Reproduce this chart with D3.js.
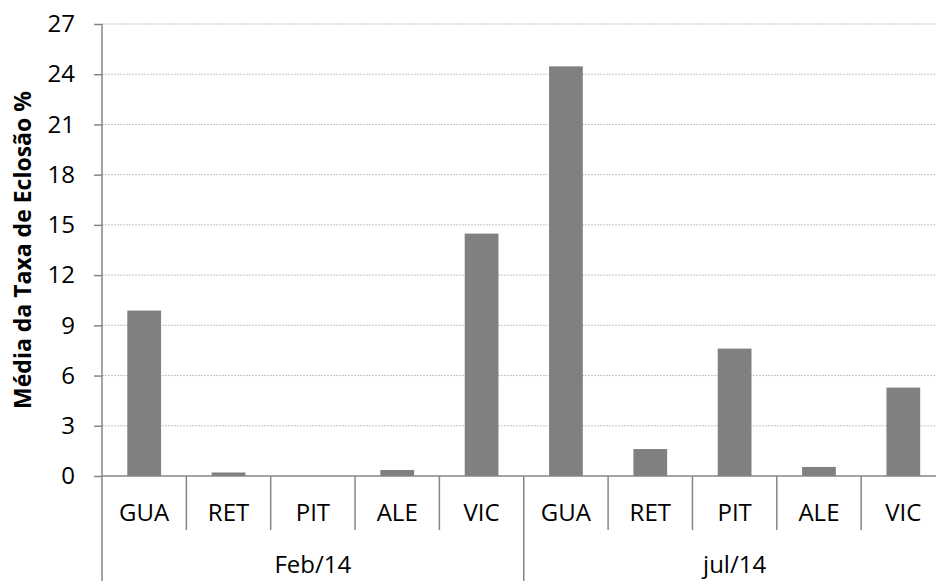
<!DOCTYPE html>
<html><head><meta charset="utf-8">
<script src="https://cdn.jsdelivr.net/npm/d3@7"></script>
<style>html,body{margin:0;padding:0;background:#fff;}svg{display:block;font-family:"Open Sans",sans-serif;}</style>
</head><body>
<svg id="c" width="936" height="581"></svg>
<script>
const groups = ["Feb/14", "jul/14"];
const sites = ["GUA", "RET", "PIT", "ALE", "VIC"];
const valuesFeb = [9.88, 0.21, 0, 0.36, 14.48];
const valuesJul = [24.47, 1.61, 7.61, 0.54, 5.28];
const yTicks = [0, 3, 6, 9, 12, 15, 18, 21, 24, 27];
const yTitle = "Média da Taxa de Eclosão %";

(function () {
const data = [];
groups.forEach((g, gi) => sites.forEach((s, si) => data.push({key: g + "|" + s, group: g, site: s, value: (gi === 0 ? valuesFeb : valuesJul)[si]})));

const svg = d3.select("#c");
const mLeft = 102, mRight = 945.5, mTop = 24, mBottom = 476;
const x = d3.scaleBand().domain(data.map(d => d.key)).range([mLeft, mRight]).paddingInner(0).paddingOuter(0);
const y = d3.scaleLinear().domain([0, 27]).range([mBottom, mTop]);
const axisColor = "#868686";
const fs = 24;

// gridlines
svg.append("g").selectAll("line").data(yTicks.filter(t => t > 0)).join("line")
  .attr("x1", mLeft).attr("x2", mRight).attr("y1", d => y(d)).attr("y2", d => y(d))
  .attr("stroke", "#c4c4c4").attr("stroke-width", 1).attr("stroke-dasharray", "2,1");

// bars
const bw = x.bandwidth() * 0.4;
svg.append("g").selectAll("rect").data(data).join("rect")
  .attr("x", d => x(d.key) + (x.bandwidth() - bw) / 2)
  .attr("width", bw)
  .attr("y", d => y(d.value))
  .attr("height", d => mBottom - y(d.value))
  .attr("fill", "#808080");

// y axis
const yAxis = d3.axisLeft(y).tickValues(yTicks).tickSize(8).tickPadding(19).tickFormat(d3.format("d"));
const ya = svg.append("g").attr("transform", `translate(${mLeft},0)`).call(yAxis);
ya.select(".domain").remove();
ya.selectAll(".tick line").attr("stroke", axisColor).attr("stroke-width", 1.5);
ya.selectAll(".tick text").attr("font-size", fs).attr("fill", "#000").attr("font-family", "Open Sans");
svg.append("line").attr("x1", mLeft).attr("x2", mLeft).attr("y1", mTop).attr("y2", 581)
  .attr("stroke", axisColor).attr("stroke-width", 1.5);

// x baseline
svg.append("line").attr("x1", mLeft).attr("x2", mRight).attr("y1", mBottom).attr("y2", mBottom)
  .attr("stroke", axisColor).attr("stroke-width", 1.5);

// category separators
const keys = x.domain();
keys.forEach((k, i) => {
  if (i === 0) return;
  const xx = x(k);
  const isGroupBoundary = i % sites.length === 0;
  svg.append("line").attr("x1", xx).attr("x2", xx).attr("y1", mBottom).attr("y2", isGroupBoundary ? 581 : 530)
    .attr("stroke", axisColor).attr("stroke-width", 1.5);
});

// category labels
svg.append("g").selectAll("text").data(data).join("text")
  .attr("x", d => x(d.key) + x.bandwidth() / 2)
  .attr("y", 521)
  .attr("text-anchor", "middle")
  .attr("font-size", fs)
  .attr("fill", "#000")
  .text(d => d.site);

// group labels
groups.forEach((g, gi) => {
  const k0 = keys[gi * sites.length], k1 = keys[gi * sites.length + sites.length - 1];
  const cx = (x(k0) + x(k1) + x.bandwidth()) / 2;
  svg.append("text").attr("x", cx).attr("y", 573)
    .attr("text-anchor", "middle").attr("font-size", fs).attr("fill", "#000").text(g);
});

// y title
svg.append("text").attr("transform", `translate(23,${(mTop + mBottom) / 2}) rotate(-90)`)
  .attr("text-anchor", "middle").attr("dy", "0.35em")
  .attr("font-size", 23).attr("font-weight", "bold").attr("fill", "#000").text(yTitle);
})();
</script>
</body></html>
